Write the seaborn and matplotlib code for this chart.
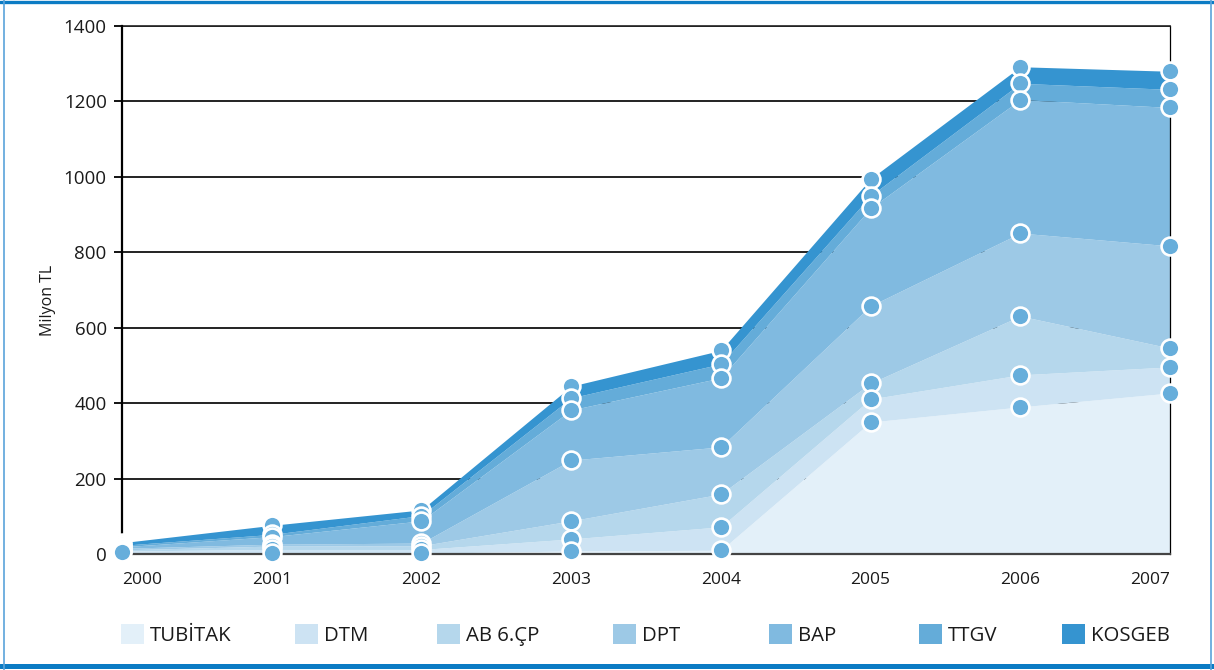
import matplotlib
matplotlib.use("Agg")
import matplotlib.pyplot as plt
from matplotlib.lines import Line2D
from matplotlib.patches import Patch
import numpy as np
import pandas as pd
import seaborn as sns

# Research funding by source, million TL
years = [2000, 2001, 2002, 2003, 2004, 2005, 2006, 2007]
series_names = ["TUBİTAK", "DTM", "AB 6.ÇP", "DPT", "BAP", "TTGV", "KOSGEB"]
tubitak = [4, 3, 2, 8, 10, 350, 390, 427]
dtm = [4, 9, 10, 32, 62, 61, 85, 69]
ab6cp = [3, 9, 10, 48, 87, 42, 156, 50]
dpt = [4, 5, 7, 161, 125, 205, 220, 271]
bap = [4, 20, 59, 133, 183, 259, 354, 367]
ttgv = [4, 6, 14, 32, 37, 33, 43, 48]
kosgeb = [7, 24, 15, 31, 36, 45, 44, 48]
y_ticks = [0, 200, 400, 600, 800, 1000, 1200, 1400]

colors = ["#e3f0f9", "#cde3f3", "#b5d7ec", "#9dc9e6", "#80bae0", "#64acd9", "#3594d0"]
marker_color = "#67aedb"

sns.set_theme(style="white")
plt.rcParams["font.family"] = ["Open Sans", "DejaVu Sans"]

values = np.array([tubitak, dtm, ab6cp, dpt, bap, ttgv, kosgeb], dtype=float)
cumulative = values.cumsum(axis=0)

# Markers sit on the top edge of each layer; lower layers are drawn last
long_df = pd.DataFrame({
    "year": np.tile(years, len(series_names)),
    "series": np.repeat(series_names, len(years)),
    "top": cumulative.ravel(),
}).iloc[::-1]

fig = plt.figure(figsize=(12.14, 6.70), dpi=100)
ax = fig.add_axes([122 / 1214, 1 - 554 / 670, 1048 / 1214, 528 / 670])

ax.stackplot(years, values, colors=colors, linewidth=0, zorder=2)

sns.scatterplot(data=long_df, x="year", y="top", color=marker_color, s=165,
                edgecolor="white", linewidth=1.9, legend=False, ax=ax,
                clip_on=False, zorder=6)

ax.set_xlim(years[0], years[-1])
ax.set_ylim(0, 1400)
ax.set_yticks(y_ticks)
ax.set_xticks(years)
ax.set_xticklabels([str(y) for y in years])
ax.set_xlabel("")

ax.grid(False)
for t in y_ticks[1:]:
    ax.axhline(t, color="#111111", lw=1.3, zorder=1)

for side in ["left", "right", "top", "bottom"]:
    ax.spines[side].set_visible(True)
ax.spines["left"].set_color("#000000")
ax.spines["left"].set_linewidth(1.6)
ax.spines["right"].set_color("#000000")
ax.spines["right"].set_linewidth(0.9)
ax.spines["top"].set_color("#222222")
ax.spines["top"].set_linewidth(1.2)
ax.spines["bottom"].set_color("#444444")
ax.spines["bottom"].set_linewidth(1.6)
ax.spines["left"].set_zorder(3)
ax.spines["bottom"].set_zorder(3)

ax.tick_params(axis="y", which="major", left=True, length=6, width=1.3,
               color="#000000", pad=5, labelsize=13.5, labelcolor="#1a1a1a")
ax.tick_params(axis="x", which="major", bottom=False, length=0, pad=13,
               labelsize=12.5, labelcolor="#1a1a1a")
xlabels = ax.get_xticklabels()
xlabels[0].set_ha("left")
xlabels[-1].set_ha("right")

ax.set_ylabel("Milyon TL", fontsize=11.5, color="#1a1a1a")
ax.yaxis.set_label_coords(-0.063, 0.481)

# Legend entries spread along the bottom row
legend_x = [121, 295, 437, 613, 769, 919, 1062]
for name, col, lx in zip(series_names, colors, legend_x):
    fig.legend(handles=[Patch(facecolor=col, edgecolor="none", label=name)],
               loc="center left", bbox_to_anchor=(lx / 1214, 1 - 635 / 670),
               frameon=False, borderpad=0, borderaxespad=0,
               prop={"family": ["Open Sans", "DejaVu Sans"], "size": 14.7},
               handlelength=1.12, handleheight=1.12, handletextpad=0.3,
               labelcolor="#1a1a1a")

# Page frame
frame_lines = [
    Line2D([0, 1], [1 - 1.5 / 670, 1 - 1.5 / 670], color="#0b7bc4", lw=2.4),
    Line2D([0, 1], [1 - 666 / 670, 1 - 666 / 670], color="#0b7bc4", lw=3.6),
    Line2D([3.5 / 1214, 3.5 / 1214], [0, 1], color="#5aa3da", lw=1.2),
    Line2D([1210.5 / 1214, 1210.5 / 1214], [0, 1], color="#5aa3da", lw=1.2),
]
for ln in frame_lines:
    ln.set_transform(fig.transFigure)
    fig.add_artist(ln)

fig.savefig("out.png", dpi=100)
